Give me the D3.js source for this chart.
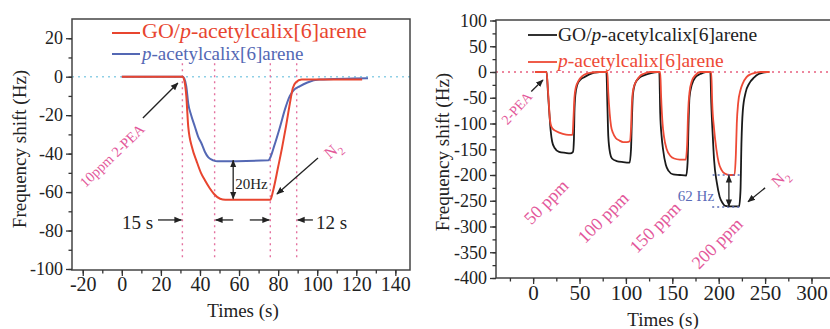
<!DOCTYPE html>
<html>
<head>
<meta charset="utf-8">
<script src="https://cdn.jsdelivr.net/npm/d3@7"></script>
<style>
body { margin: 0; background: #fff; }
svg { display: block; font-family: "Liberation Serif", "Times New Roman", serif; }
</style>
</head>
<body>
<svg id="chart" width="830" height="329"></svg>
<script>
// ---- left panel: 10 ppm 2-PEA ----
var leftTimeGO  = [0, 31, 32, 33, 34, 36, 38.3, 40.5, 42.6, 45, 47.2, 50.3, 53, 76, 77.5, 80, 82, 84, 86, 87.5, 89, 92, 100, 123];
var leftShiftGO = [0, 0, -2, -10, -26, -37, -44, -50, -54, -58, -61, -63.5, -64, -64, -59, -47, -37, -26, -14, -6, -3, -1.5, -1.5, -1.5];
var leftTimePA  = [0, 31, 32, 33, 34, 35.5, 37.4, 39, 40.9, 42.5, 44.3, 46.8, 49, 75, 76, 78, 81, 83.5, 86, 88, 91, 95, 101, 126];
var leftShiftPA = [0, 0, -1, -5, -14, -20, -26, -31, -35, -39, -42, -43.5, -44, -43.5, -42, -36, -26, -17, -10, -7, -5, -3, -1.5, -0.8];
var leftXTicks = [-20, 0, 20, 40, 60, 80, 100, 120, 140];
var leftYTicks = [20, 0, -20, -40, -60, -80, -100];
var leftMarkers = [31, 47.5, 76, 89.5];

// ---- right panel: 50-200 ppm pulses ----
var rightTimeGO = [2, 14.5, 16, 17.5, 19, 20.5, 23, 28, 35, 40, 43, 44, 44.5, 45.5, 47.5, 51, 55, 60, 66, 72, 79,
  80, 81, 83, 85, 90, 97, 104, 105.5, 106.5, 107.5, 110, 114, 120, 127, 134, 136,
  137, 138.5, 140, 143, 146, 151, 158, 165, 166.5, 167.5, 168.5, 171, 175, 180, 186, 191,
  192, 193.5, 195, 198, 201, 204, 207, 214, 222, 223.5, 224.5, 226, 229, 233, 238, 243, 248, 252];
var rightShiftGO = [0, 0, -40, -80, -115, -135, -147, -155, -157, -158, -155, -130, -80, -45, -25, -15, -10, -5, -1, 0, 0,
  -60, -124, -158, -168, -173, -175, -176, -150, -90, -45, -22, -12, -6, -2, 0, 0,
  -80, -125, -150, -180, -192, -199, -200, -201, -175, -100, -50, -25, -10, -4, 0, 0,
  -60, -120, -170, -215, -242, -254, -260, -261, -261, -230, -140, -75, -40, -22, -11, -4, -1, 0];
var rightTimePA = [2, 14.5, 16, 17, 18, 19, 21, 25, 32, 38, 42.5, 43.5, 44.5, 46, 49, 53, 58, 64, 70, 80,
  81, 82.5, 84, 86, 89, 93, 97, 101, 104.5, 105.5, 106.5, 108, 111, 115, 120, 126, 137,
  138, 139.5, 141, 144, 148, 152, 158, 164.5, 166, 167, 168.5, 171, 175, 180, 192,
  193, 195, 197.5, 200, 203, 206.5, 212, 217, 218.5, 219.5, 221, 223.5, 226, 230, 235, 241, 245, 255];
var rightShiftPA = [0, 0, -35, -63, -90, -102, -110, -115, -120, -122, -122, -90, -50, -30, -17, -8, -3, -1, 0, 0,
  -40, -80, -105, -118, -128, -133, -136, -136, -134, -110, -60, -33, -18, -8, -3, 0, 0,
  -50, -100, -125, -150, -163, -168, -170, -170, -140, -80, -40, -18, -6, 0, 0,
  -60, -110, -150, -176, -190, -197, -200, -200, -160, -100, -60, -35, -22, -10, -4, -1, 0, 0];
var rightXTicks = [0, 50, 100, 150, 200, 250, 300];
var rightYTicks = [100, 50, 0, -50, -100, -150, -200, -250, -300, -350, -400];
var ppmLabels = ["50 ppm", "100 ppm", "150 ppm", "200 ppm"];
var ppmTimes  = [13.9, 75.3, 131.3, 198.1];
var ppmShifts = [-252, -282, -301, -332];

var RED = "#e8452f", BLUE = "#5468b4", BLACK = "#1a1a1a", RED2 = "#ee4a36",
    PINK = "#e3589a", AXIS = "#333";

var svg = d3.select("#chart");
svg.append("rect").attr("width", 830).attr("height", 329).attr("fill", "#fff");
var defs = svg.append("defs");
function marker(id, color) {
    defs.append("marker")
        .attr("id", id)
        .attr("viewBox", "0 0 10 10")
        .attr("refX", 9).attr("refY", 5)
        .attr("markerWidth", 6).attr("markerHeight", 6)
        .attr("orient", "auto-start-reverse")
        .append("path")
        .attr("d", "M0,1 L10,5 L0,9 Z")
        .attr("fill", color);
}
marker("arrBlack", "#222");

function arrow(g, x1, y1, x2, y2, both, dash) {
    var l = g.append("line")
        .attr("x1", x1).attr("y1", y1).attr("x2", x2).attr("y2", y2)
        .attr("stroke", "#222").attr("stroke-width", 1.3)
        .attr("marker-end", "url(#arrBlack)");
    if (both) l.attr("marker-start", "url(#arrBlack)");
    if (dash) l.attr("stroke-dasharray", dash);
    return l;
}

function axes(g, x, y, o) {
    var xa = g.append("g").attr("transform", "translate(0," + o.bottom + ")");
    xa.call(d3.axisBottom(x).tickValues(o.xMinor).tickSize(3.5).tickFormat(""));
    xa.append("g").call(d3.axisBottom(x).tickValues(o.xTicks).tickSize(6).tickPadding(o.xPad)
        .tickFormat(function (d) { return String(d); }));
    var ya = g.append("g").attr("transform", "translate(" + o.left + ",0)");
    ya.call(d3.axisLeft(y).tickValues(o.yMinor).tickSize(3.5).tickFormat(""));
    ya.append("g").call(d3.axisLeft(y).tickValues(o.yTicks).tickSize(6).tickPadding(3)
        .tickFormat(function (d) { return String(d); }));
    g.selectAll(".domain").remove();
    // axis groups carry font-family="sans-serif"; drop it so the page serif applies
    g.selectAll("g").attr("font-family", null).attr("font-size", null);
    g.selectAll(".tick line").attr("stroke", AXIS).attr("stroke-width", 1.3);
    xa.selectAll("text").style("font-family", "'Liberation Serif', 'Times New Roman', serif")
        .attr("font-size", o.xFont).attr("fill", "#222");
    ya.selectAll("text").style("font-family", "'Liberation Serif', 'Times New Roman', serif")
        .attr("font-size", 18).attr("fill", "#222");
}

function rotText(g, cx, cy, angle, size, color, txt, sub) {
    var t = g.append("text")
        .attr("transform", "translate(" + cx + "," + cy + ") rotate(" + angle + ")")
        .attr("text-anchor", "middle").attr("dy", "0.35em")
        .attr("font-size", size).attr("fill", color)
        .text(txt);
    if (sub) t.append("tspan").attr("font-size", size * 0.7).attr("dy", size * 0.3).text(sub);
    return t;
}

// ================= LEFT PANEL =================
(function () {
    var x = d3.scaleLinear().domain([-25.5, 147.5]).range([72, 410]);
    var y = d3.scaleLinear().domain([-100, 30]).range([269, 19]);
    var g = svg.append("g");

    // reference lines
    g.append("line").attr("x1", 72).attr("x2", 410).attr("y1", y(0)).attr("y2", y(0))
        .attr("stroke", "#8fd0e6").attr("stroke-width", 1.6).attr("stroke-dasharray", "2,4");
    g.selectAll(".vmark").data(leftMarkers).enter().append("line")
        .attr("x1", function (d) { return x(d); }).attr("x2", function (d) { return x(d); })
        .attr("y1", y(7)).attr("y2", y(-95))
        .attr("stroke", "#e4719f").attr("stroke-width", 1.4).attr("stroke-dasharray", "2,4");

    var line = d3.line().curve(d3.curveMonotoneX);
    g.append("path")
        .attr("d", line(leftTimePA.map(function (t, i) { return [x(t), y(leftShiftPA[i])]; })))
        .attr("fill", "none").attr("stroke", BLUE).attr("stroke-width", 2);
    g.append("path")
        .attr("d", line(leftTimeGO.map(function (t, i) { return [x(t), y(leftShiftGO[i])]; })))
        .attr("fill", "none").attr("stroke", RED).attr("stroke-width", 2);

    // frame + axes
    g.append("rect").attr("x", 72).attr("y", 19).attr("width", 338).attr("height", 251)
        .attr("fill", "none").attr("stroke", "#444").attr("stroke-width", 1.5);
    axes(g, x, y, {
        bottom: 270, left: 72, xTicks: leftXTicks, yTicks: leftYTicks,
        xMinor: d3.range(-20, 141, 10), yMinor: d3.range(-100, 21, 10), xFont: 20, xPad: 1
    });

    // legend
    g.append("line").attr("x1", 112).attr("x2", 140).attr("y1", 33).attr("y2", 33).attr("stroke", RED).attr("stroke-width", 2);
    var t1 = g.append("text").attr("x", 142).attr("y", 38).attr("font-size", 22).attr("fill", RED);
    t1.append("tspan").text("GO/");
    t1.append("tspan").attr("font-style", "italic").text("p");
    t1.append("tspan").text("-acetylcalix[6]arene");
    g.append("line").attr("x1", 112).attr("x2", 140).attr("y1", 54).attr("y2", 54).attr("stroke", BLUE).attr("stroke-width", 2);
    var t2 = g.append("text").attr("x", 142).attr("y", 60).attr("font-size", 19).attr("fill", BLUE);
    t2.append("tspan").attr("font-style", "italic").text("p");
    t2.append("tspan").text("-acetylcalix[6]arene");

    // annotations
    rotText(g, x(-5), y(-41), -44, 14.5, PINK, "10ppm 2-PEA");
    arrow(g, x(10.8), y(-21.5), x(28.7), y(-3.3));
    rotText(g, x(108), y(-38), -40, 16, PINK, "N", "2");
    arrow(g, x(100.4), y(-42.3), x(79.4), y(-61));
    arrow(g, x(57), y(-43.5), x(57), y(-63.5), true);
    g.append("text").attr("x", x(58)).attr("y", y(-58.5)).attr("font-size", 15).attr("fill", "#222").text("20Hz");

    arrow(g, x(18.5), y(-74.5), x(30.5), y(-74.5));
    g.append("text").attr("x", x(16)).attr("y", y(-79)).attr("text-anchor", "end")
        .attr("font-size", 19).attr("fill", "#222").text("15 s");
    arrow(g, x(57), y(-74.5), x(48), y(-74.5));
    arrow(g, x(65.5), y(-74.5), x(75.5), y(-74.5));
    arrow(g, x(97.8), y(-74.5), x(90), y(-74.5));
    g.append("text").attr("x", x(99.4)).attr("y", y(-79)).attr("font-size", 19).attr("fill", "#222").text("12 s");

    // axis titles
    g.append("text").attr("transform", "translate(26,149) rotate(-90)").attr("text-anchor", "middle")
        .attr("font-size", 19).attr("fill", "#222").text("Frequency shift (Hz)");
    g.append("text").attr("x", 243).attr("y", 317).attr("text-anchor", "middle")
        .attr("font-size", 19).attr("fill", "#222").text("Times (s)");
})();

// ================= RIGHT PANEL =================
(function () {
    var x = d3.scaleLinear().domain([-40, 340]).range([496, 848.6]);
    var y = d3.scaleLinear().domain([-400, 100]).range([278, 20.5]);
    var g = svg.append("g");

    g.append("line").attr("x1", 496).attr("x2", 830).attr("y1", y(0)).attr("y2", y(0))
        .attr("stroke", "#e8607f").attr("stroke-width", 1.5).attr("stroke-dasharray", "2,4");

    var line = d3.line().curve(d3.curveMonotoneX);
    g.append("path")
        .attr("d", line(rightTimeGO.map(function (t, i) { return [x(t), y(rightShiftGO[i])]; })))
        .attr("fill", "none").attr("stroke", BLACK).attr("stroke-width", 1.8);
    g.append("path")
        .attr("d", line(rightTimePA.map(function (t, i) { return [x(t), y(rightShiftPA[i])]; })))
        .attr("fill", "none").attr("stroke", RED2).attr("stroke-width", 1.8);

    // frame (right edge runs off the picture)
    g.append("path").attr("d", "M830,20 L496,20 L496,278 L830,278")
        .attr("fill", "none").attr("stroke", "#444").attr("stroke-width", 1.5);
    axes(g, x, y, {
        bottom: 278, left: 496, xTicks: rightXTicks, yTicks: rightYTicks,
        xMinor: d3.range(-25, 326, 25), yMinor: d3.range(-400, 101, 25), xFont: 21, xPad: 1
    });

    // legend
    g.append("line").attr("x1", 528).attr("x2", 557).attr("y1", 35).attr("y2", 35).attr("stroke", BLACK).attr("stroke-width", 1.8);
    var t1 = g.append("text").attr("x", 558).attr("y", 41).attr("font-size", 19.5).attr("fill", "#222");
    t1.append("tspan").text("GO/");
    t1.append("tspan").attr("font-style", "italic").text("p");
    t1.append("tspan").text("-acetylcalix[6]arene");
    g.append("line").attr("x1", 528).attr("x2", 557).attr("y1", 62).attr("y2", 62).attr("stroke", RED2).attr("stroke-width", 1.8);
    var t2 = g.append("text").attr("x", 558).attr("y", 67).attr("font-size", 19.5).attr("fill", RED2);
    t2.append("tspan").attr("font-style", "italic").text("p");
    t2.append("tspan").text("-acetylcalix[6]arene");

    // annotations
    rotText(g, x(-17.9), y(-70), -48, 14, PINK, "2-PEA");
    arrow(g, x(-2), y(-38), x(10.6), y(-15.5));
    ppmLabels.forEach(function (lab, i) {
        rotText(g, x(ppmTimes[i]), y(ppmShifts[i]), -45, 18, PINK, lab);
    });
    g.append("line").attr("x1", x(193.5)).attr("x2", x(224.5)).attr("y1", y(-200)).attr("y2", y(-200))
        .attr("stroke", "#5a6cb8").attr("stroke-width", 1.4).attr("stroke-dasharray", "2,3");
    g.append("line").attr("x1", x(193)).attr("x2", x(224)).attr("y1", y(-262)).attr("y2", y(-262))
        .attr("stroke", "#5a6cb8").attr("stroke-width", 1.4).attr("stroke-dasharray", "2,3");
    arrow(g, x(211), y(-201), x(211), y(-261), true);
    g.append("text").attr("x", x(195)).attr("y", y(-250)).attr("text-anchor", "end")
        .attr("font-size", 15).attr("fill", "#5a6cb8").text("62 Hz");
    rotText(g, x(266), y(-206), -45, 16, PINK, "N", "2");
    arrow(g, x(250), y(-225), x(231.6), y(-252));

    // axis titles
    g.append("text").attr("transform", "translate(449,152) rotate(-90)").attr("text-anchor", "middle")
        .attr("font-size", 19).attr("fill", "#222").text("Frequency shift (Hz)");
    g.append("text").attr("x", 663).attr("y", 326).attr("text-anchor", "middle")
        .attr("font-size", 19).attr("fill", "#222").text("Times (s)");
})();
</script>
</body>
</html>
